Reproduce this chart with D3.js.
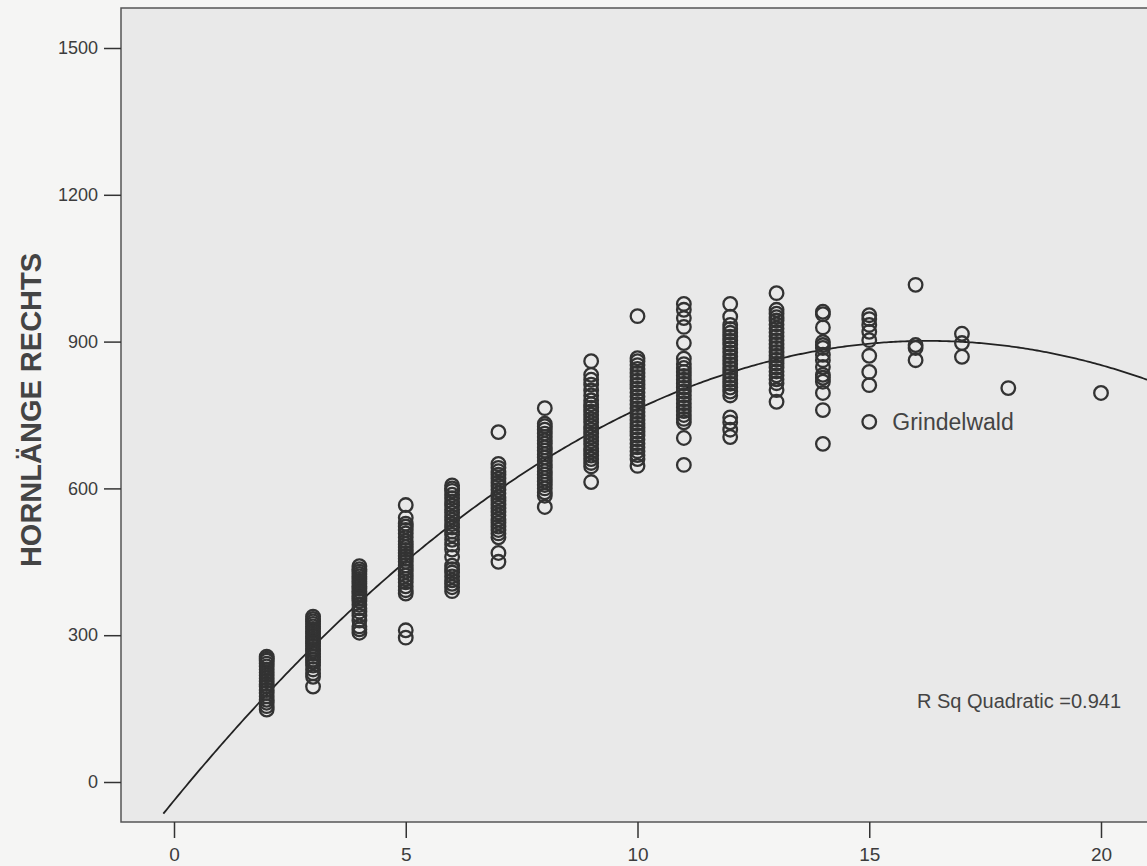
<!DOCTYPE html>
<html>
<head>
<meta charset="utf-8">
<script src="https://cdn.jsdelivr.net/npm/d3@7"></script>
<style>
  html, body { margin: 0; padding: 0; background: #f5f5f4; }
  svg { display: block; font-family: "Liberation Sans", Arial, sans-serif; }
</style>
</head>
<body>
<svg></svg>
<script>
const width = 1147;
const height = 866;

// age classes (x) and horn lengths
const ages = [2, 3, 4, 5, 6, 7, 8, 9, 10, 11, 12, 13, 14, 15, 16, 17, 18, 20];
const hornValues = [
    [148, 155, 162, 168, 175, 182, 188, 195, 200, 206, 212, 218, 224, 230, 236, 242, 248, 252, 256],
    [195, 215, 222, 230, 238, 245, 250, 256, 262, 268, 272, 278, 283, 288, 293, 298, 303, 308, 313, 318, 323, 328, 333, 338],
    [305, 312, 318, 330, 340, 348, 355, 362, 370, 375, 380, 385, 390, 395, 400, 405, 410, 415, 420, 425, 430, 435, 441],
    [295, 310, 385, 392, 400, 408, 415, 422, 430, 437, 443, 450, 456, 462, 468, 474, 480, 486, 492, 500, 508, 515, 522, 528, 540, 566],
    [390, 398, 405, 412, 420, 428, 435, 442, 460, 475, 485, 495, 505, 512, 520, 527, 535, 542, 550, 557, 565, 572, 580, 587, 595, 600, 606],
    [450, 468, 500, 508, 515, 522, 530, 537, 545, 552, 560, 567, 575, 582, 590, 597, 605, 612, 620, 628, 635, 642, 650, 715],
    [562, 585, 592, 600, 607, 614, 621, 628, 635, 642, 649, 656, 663, 670, 677, 684, 691, 698, 705, 712, 720, 727, 732, 764],
    [613, 645, 652, 660, 667, 675, 682, 690, 697, 705, 712, 720, 727, 735, 742, 750, 757, 765, 772, 780, 790, 800, 812, 822, 832, 860],
    [646, 660, 668, 676, 684, 692, 700, 708, 716, 724, 732, 740, 748, 756, 764, 772, 780, 788, 796, 804, 812, 820, 828, 836, 844, 852, 860, 866, 952],
    [648, 703, 735, 742, 750, 758, 766, 774, 782, 790, 798, 806, 814, 822, 830, 838, 846, 854, 865, 897, 930, 948, 965, 977],
    [705, 720, 735, 745, 790, 798, 806, 814, 822, 830, 838, 846, 854, 862, 870, 878, 886, 894, 902, 910, 918, 926, 934, 951, 977],
    [777, 801, 815, 823, 831, 839, 847, 855, 863, 871, 879, 887, 895, 903, 911, 919, 927, 935, 943, 950, 957, 965, 999],
    [691, 760, 795, 818, 826, 832, 848, 862, 873, 887, 893, 899, 929, 956, 961],
    [736, 811, 838, 871, 903, 920, 934, 946, 954],
    [862, 887, 893, 1016],
    [869, 897, 916],
    [805],
    [795]
];

const labelAge = 15;
const labelValue = 736;
const labelText = 'Grindelwald';

// quadratic fit
const fitB0 = -38;
const fitB1 = 115.5;
const fitB2 = -3.55;
const rSquare = '0.941';

const xTicks = [0, 5, 10, 15, 20];
const yTicks = [0, 300, 600, 900, 1200, 1500];
const yTitle = 'HORNLÄNGE RECHTS';

const frame = { left: 121, top: 8, right: 1170, bottom: 822 };

const points = [];
ages.forEach((a, i) => {
    hornValues[i].forEach(v => points.push({ age: a, horn: v }));
});

const x = d3.scaleLinear()
    .domain([0, 20])
    .range([174, 1101]);

const y = d3.scaleLinear()
    .domain([0, 1500])
    .range([782, 48]);

const svg = d3.select('svg')
    .attr('width', width)
    .attr('height', height);

svg.append('defs')
    .append('clipPath')
        .attr('id', 'plot-clip')
    .append('rect')
        .attr('x', frame.left)
        .attr('y', frame.top)
        .attr('width', frame.right - frame.left)
        .attr('height', frame.bottom - frame.top);

svg.append('rect')
    .attr('x', frame.left)
    .attr('y', frame.top)
    .attr('width', frame.right - frame.left)
    .attr('height', frame.bottom - frame.top)
    .attr('fill', '#e9e9e9')
    .attr('stroke', '#555')
    .attr('stroke-width', 1.5);

// axes
const yAxis = svg.append('g')
    .attr('transform', `translate(${frame.left}, 0)`)
    .call(d3.axisLeft(y).tickValues(yTicks).tickFormat(d3.format('d')).tickSize(17).tickPadding(6));

const xAxis = svg.append('g')
    .attr('transform', `translate(0, ${frame.bottom})`)
    .call(d3.axisBottom(x).tickValues(xTicks).tickFormat(d3.format('d')).tickSize(16).tickPadding(10));

[yAxis, xAxis].forEach(g => {
    g.select('.domain').remove();
    g.selectAll('line').attr('stroke', '#333').attr('stroke-width', 1.5);
    g.selectAll('text')
        .attr('fill', '#3c3c3c')
        .style('font-family', '"Liberation Sans", Arial, sans-serif');
});
yAxis.selectAll('text').style('font-size', '18px');
xAxis.selectAll('text').style('font-size', '19px');

svg.append('text')
    .attr('transform', `translate(41, 410) rotate(-90)`)
    .attr('text-anchor', 'middle')
    .attr('fill', '#444')
    .style('font-size', '29px')
    .style('font-weight', 'bold')
    .text(yTitle);

const plot = svg.append('g')
    .attr('clip-path', 'url(#plot-clip)');

// fitted curve
const curveX = d3.range(-0.23, 22, 0.05);
const line = d3.line()
    .x(d => x(d))
    .y(d => y(fitB0 + fitB1 * d + fitB2 * d * d));

plot.append('path')
    .datum(curveX)
    .attr('d', line)
    .attr('fill', 'none')
    .attr('stroke', '#222')
    .attr('stroke-width', 1.8);

plot.selectAll('.pt')
    .data(points)
    .enter()
    .append('circle')
        .classed('pt', true)
        .attr('cx', d => x(d.age))
        .attr('cy', d => y(d.horn))
        .attr('r', 6.8)
        .attr('fill', 'none')
        .attr('stroke', '#333')
        .attr('stroke-width', 2.3);

svg.append('text')
    .attr('x', x(labelAge) + 23)
    .attr('y', y(labelValue))
    .attr('dy', '0.35em')
    .attr('fill', '#444')
    .style('font-size', '23px')
    .text(labelText);

svg.append('text')
    .attr('x', 917)
    .attr('y', 708)
    .attr('fill', '#444')
    .style('font-size', '20px')
    .text(`R Sq Quadratic =${rSquare}`);
</script>
</body>
</html>
